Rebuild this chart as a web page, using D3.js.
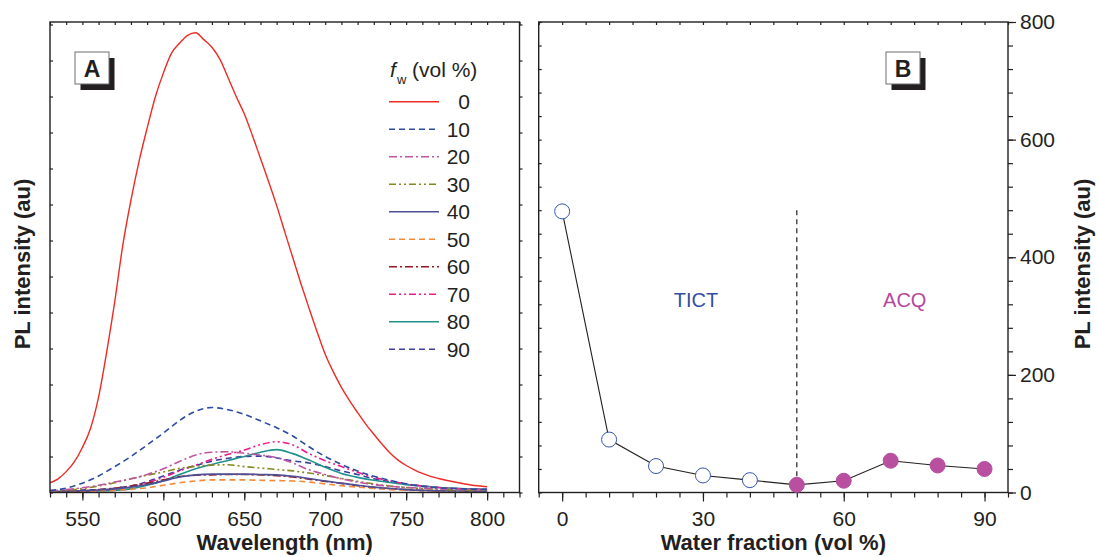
<!DOCTYPE html>
<html><head><meta charset="utf-8">
<script src="https://cdn.jsdelivr.net/npm/d3@7"></script>
<style>
body{margin:0;background:#fff}
svg{display:block}
</style>
</head><body>
<svg id="c" width="1097" height="557"></svg>
<script>
// ---------- DATA ----------
// Panel A: PL spectra (wavelength in nm, intensity in arbitrary units)
const wlFine = [530,535,540,545,550,555,560,565,570,575,580,585,590,595,600,605,610,615,620,625,630,635,640,645,650,655,660,665,670,675,680,685,690,695,700,705,710,715,720,725,730,735,740,745,750,755,760,765,770,780,790,800];
const pl0 = [27,38,58,85,125,178,265,390,530,688,812,920,1012,1098,1165,1220,1248,1270,1277,1258,1237,1203,1152,1100,1052,992,928,864,797,724,652,580,512,446,384,335,292,255,222,190,162,135,110,90,75,63,53,45,39,29,21,16];

const wlCoarse = [530,540,550,560,570,580,590,600,610,620,630,640,650,660,670,680,690,700,710,720,730,740,750,760,770,780,790,800];
const pl10 = [5,12,26,46,72,100,132,165,200,226,236,230,217,199,180,157,127,100,78,60,45,34,24,17,13,11,9,8];
const pl20 = [4,8,13,20,29,38,50,66,86,104,112,113,109,104,97,82,63,50,38,29,22,17,14,12,10,9,8,7];
const pl30 = [3,6,11,18,27,38,48,57,67,73,76,77,72,68,64,60,54,47,39,31,24,18,14,11,9,7,6,5];
const pl40 = [3,4,5,7,10,15,22,32,43,49,51,51,51,50,49,45,39,32,26,20,15,11,8,6,5,4,4,3];
const pl50 = [2,3,3,4,6,9,13,20,27,32,35,35,35,34,33,32,29,24,19,15,11,8,6,5,4,3,3,2];
const pl60 = [2,3,5,8,12,18,26,35,44,48,49,50,50,49,47,43,37,31,25,19,14,11,8,6,4,3,3,2];
const pl70 = [2,3,4,6,10,16,27,42,60,76,92,106,118,133,141,132,108,88,72,56,42,32,24,18,14,11,9,8];
const pl80 = [1,2,3,4,6,10,20,33,50,66,78,89,100,112,119,108,90,70,53,42,34,28,22,18,14,12,10,9];
const pl90 = [6,6,7,8,12,18,30,46,62,75,87,95,100,101,96,88,82,72,60,50,38,30,23,18,14,11,10,9];

const fwLabels = ["0","10","20","30","40","50","60","70","80","90"];
const xTicksA = [550,600,650,700,750,800];

// Panel B: PL intensity vs water fraction
const waterFraction = [0,10,20,30,40,50,60,70,80,90];
const plPeak = [478,90,45,29,21,13,20,54,46,40];
const xTicksB = [0,30,60,90];
const yTicksB = [0,200,400,600,800];

// ---------- STYLE ----------
const FONT = "'Liberation Sans', Arial, Helvetica, sans-serif";
const ink = "#231f20";
const TICK_FS = 21, TITLE_FS = 22;
const seriesStyle = [
  {c:"#ee2a24", d:null},
  {c:"#2c4ca2", d:"6,4"},
  {c:"#c1549f", d:"8,3,2,3"},
  {c:"#85871f", d:"7,3,2,3,2,3"},
  {c:"#4f4f95", d:null},
  {c:"#f28a3a", d:"6,4"},
  {c:"#8e1b20", d:"8,3,2,3"},
  {c:"#ec1c8c", d:"7,3,2,3,2,3"},
  {c:"#21918e", d:null},
  {c:"#3d3e9c", d:"6,4"}
];
const seriesData = [pl0,pl10,pl20,pl30,pl40,pl50,pl60,pl70,pl80,pl90];

const svg = d3.select("#c");

function styleAxis(g){
  g.select(".domain").remove();
  g.selectAll("line").attr("stroke", ink).attr("stroke-width", 1.2);
  g.selectAll("text").attr("font-family", FONT).attr("font-size", TICK_FS).attr("fill", ink);
}

// ---------- PANEL A ----------
const xA = d3.scaleLinear().domain([530,820]).range([50,519.5]);
const yA = d3.scaleLinear().domain([0,1307]).range([492.5,22]);

svg.append("defs").append("clipPath").attr("id","clipA")
  .append("rect").attr("x",xA(530)).attr("y",yA(1307)).attr("width",xA(820)-xA(530)).attr("height",yA(0)-yA(1307));

const curvesG = svg.append("g").attr("clip-path","url(#clipA)");
const lineA = d3.line().curve(d3.curveMonotoneX);
for (let i = seriesData.length-1; i >= 0; i--) {
  const wl = i === 0 ? wlFine : wlCoarse;
  const pts = wl.map((w,k) => [xA(w), yA(seriesData[i][k])]);
  curvesG.append("path")
    .attr("d", lineA(pts))
    .attr("fill","none")
    .attr("stroke", seriesStyle[i].c)
    .attr("stroke-width", i === 0 ? 1.4 : 1.6)
    .attr("stroke-dasharray", seriesStyle[i].d);
}

// axes A
svg.append("g").attr("transform",`translate(0,${yA(0)})`)
  .call(d3.axisBottom(xA).tickValues(d3.range(530,821,10)).tickSize(5).tickFormat("")).call(styleAxis);
svg.append("g").attr("transform",`translate(0,${yA(0)})`)
  .call(d3.axisBottom(xA).tickValues(xTicksA).tickSize(8).tickPadding(11)).call(styleAxis);
svg.append("g").attr("transform",`translate(0,${yA(1307)})`)
  .call(d3.axisBottom(xA).tickValues(d3.range(530,821,10)).tickSize(3).tickFormat("")).call(styleAxis);
svg.append("g").attr("transform",`translate(${xA(530)},0)`)
  .call(d3.axisRight(yA).tickValues(d3.range(0,1301,100)).tickSize(3).tickFormat("")).call(styleAxis);
svg.append("g").attr("transform",`translate(${xA(820)},0)`)
  .call(d3.axisRight(yA).tickValues(d3.range(0,1301,100)).tickSize(3).tickFormat("")).call(styleAxis);
svg.append("rect").attr("x",xA(530)).attr("y",yA(1307)).attr("width",xA(820)-xA(530)).attr("height",yA(0)-yA(1307))
  .attr("fill","none").attr("stroke",ink).attr("stroke-width",1.4);

// axis titles A
svg.append("text").attr("x",(xA(530)+xA(820))/2).attr("y",550).attr("text-anchor","middle")
  .attr("font-family",FONT).attr("font-size",TITLE_FS).attr("font-weight","bold").attr("fill",ink).text("Wavelength (nm)");
svg.append("text").attr("transform","translate(30,264) rotate(-90)").attr("text-anchor","middle")
  .attr("font-family",FONT).attr("font-size",TITLE_FS).attr("font-weight","bold").attr("fill",ink).text("PL intensity (au)");

// panel label box
function panelBox(x, y, label){
  svg.append("rect").attr("x",x+5.5).attr("y",y+6).attr("width",34).attr("height",32).attr("fill",ink);
  svg.append("rect").attr("x",x).attr("y",y).attr("width",34).attr("height",32).attr("fill","#fff").attr("stroke","#6d6e70").attr("stroke-width",1);
  svg.append("text").attr("x",x+17).attr("y",y+24.5).attr("text-anchor","middle")
    .attr("font-family",FONT).attr("font-size",23).attr("font-weight","bold").attr("fill",ink).text(label);
}
panelBox(75,52,"A");

// legend
const lg = svg.append("g");
lg.append("text").attr("x",390).attr("y",77).attr("font-family",FONT).attr("font-size",21).attr("font-style","italic").attr("fill",ink).text("f");
lg.append("text").attr("x",397).attr("y",84).attr("font-family",FONT).attr("font-size",13).attr("fill",ink).text("w");
lg.append("text").attr("x",412).attr("y",77).attr("font-family",FONT).attr("font-size",21).attr("fill",ink).text("(vol %)");
fwLabels.forEach((lab,i) => {
  const y = 101.7 + i*27.5;
  lg.append("line").attr("x1",389).attr("x2",439).attr("y1",y).attr("y2",y)
    .attr("stroke",seriesStyle[i].c).attr("stroke-width",1.4).attr("stroke-dasharray",seriesStyle[i].d);
  lg.append("text").attr("x",470).attr("y",y+7.5).attr("text-anchor","end")
    .attr("font-family",FONT).attr("font-size",21).attr("fill",ink).text(lab);
});

// ---------- PANEL B ----------
const xB = d3.scaleLinear().domain([-5,95]).range([538.7,1008]);
const yB = d3.scaleLinear().domain([0,800]).range([492.5,22]);

svg.append("g").attr("transform",`translate(0,${yB(0)})`)
  .call(d3.axisBottom(xB).tickValues(d3.range(-5,96,5)).tickSize(5).tickFormat("")).call(styleAxis);
svg.append("g").attr("transform",`translate(0,${yB(0)})`)
  .call(d3.axisBottom(xB).tickValues(xTicksB).tickSize(9).tickPadding(10)).call(styleAxis);
svg.append("g").attr("transform",`translate(0,${yB(800)})`)
  .call(d3.axisBottom(xB).tickValues(d3.range(-5,96,5)).tickSize(3).tickFormat("")).call(styleAxis);
svg.append("g").attr("transform",`translate(${xB(-5)},0)`)
  .call(d3.axisRight(yB).tickValues(d3.range(0,801,40)).tickSize(3).tickFormat("")).call(styleAxis);
svg.append("g").attr("transform",`translate(${xB(95)},0)`)
  .call(d3.axisRight(yB).tickValues(d3.range(0,801,40)).tickSize(5).tickFormat("")).call(styleAxis);
svg.append("g").attr("transform",`translate(${xB(95)},0)`)
  .call(d3.axisRight(yB).tickValues(yTicksB).tickSize(8).tickPadding(4)).call(styleAxis);
svg.append("rect").attr("x",xB(-5)).attr("y",yB(800)).attr("width",xB(95)-xB(-5)).attr("height",yB(0)-yB(800))
  .attr("fill","none").attr("stroke",ink).attr("stroke-width",1.4);

svg.append("text").attr("x",(xB(-5)+xB(95))/2).attr("y",550).attr("text-anchor","middle")
  .attr("font-family",FONT).attr("font-size",TITLE_FS).attr("font-weight","bold").attr("fill",ink).text("Water fraction (vol %)");
svg.append("text").attr("transform","translate(1090,264) rotate(-90)").attr("text-anchor","middle")
  .attr("font-family",FONT).attr("font-size",TITLE_FS).attr("font-weight","bold").attr("fill",ink).text("PL intensity (au)");

// dashed divider
svg.append("line").attr("x1",xB(50)).attr("x2",xB(50)).attr("y1",yB(480)).attr("y2",yB(0))
  .attr("stroke",ink).attr("stroke-width",1.2).attr("stroke-dasharray","5,4");

// connecting line
const lineB = d3.line().x((d,i)=>xB(waterFraction[i])).y(d=>yB(d));
svg.append("path").attr("d",lineB(plPeak)).attr("fill","none").attr("stroke",ink).attr("stroke-width",1.1);

// markers
svg.append("g").selectAll("circle").data(plPeak).join("circle")
  .attr("cx",(d,i)=>xB(waterFraction[i])).attr("cy",d=>yB(d)).attr("r",7.5)
  .attr("fill",(d,i)=> waterFraction[i] < 50 ? "#fff" : "#b84f9f")
  .attr("stroke",(d,i)=> waterFraction[i] < 50 ? "#3556b0" : "#b84f9f")
  .attr("stroke-width",1);

// region labels
svg.append("text").attr("x",xB(28.5)).attr("y",yB(316)).attr("text-anchor","middle")
  .attr("font-family",FONT).attr("font-size",20).attr("fill","#2f4ea5").text("TICT");
svg.append("text").attr("x",xB(73)).attr("y",yB(316)).attr("text-anchor","middle")
  .attr("font-family",FONT).attr("font-size",20).attr("fill","#b5489e").text("ACQ");

panelBox(886,52,"B");
</script>
</body></html>
